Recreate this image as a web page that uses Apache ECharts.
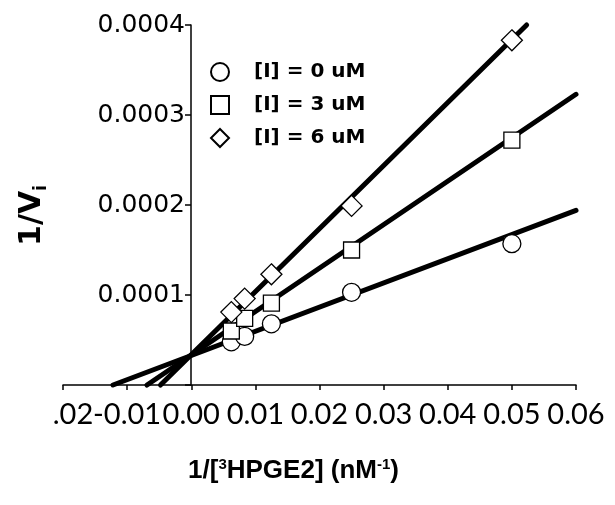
<!DOCTYPE html>
<html>
<head>
<meta charset="utf-8">
<script src="https://cdn.jsdelivr.net/npm/echarts@6/dist/echarts.min.js"></script>
<style>
html, body { margin: 0; padding: 0; background: #fff; }
#chart { width: 615px; height: 505px; }
</style>
</head>
<body>
<div id="chart"></div>
<script>
// values
var seriesNames = ['[I] = 0 uM', '[I] = 3 uM', '[I] = 6 uM'];
var invS = [0.00625, 0.00833, 0.0125, 0.025, 0.05];
var invV0 = [0.000048, 0.000054, 0.000068, 0.000103, 0.000157];
var invV3 = [0.000060, 0.000074, 0.000091, 0.000150, 0.000272];
var invV6 = [0.000081, 0.000096, 0.000123, 0.000199, 0.000383];
// fitted lines, end points [x, y]
var fit0 = [[-0.0122, 0], [0.06, 0.000194]];
var fit3 = [[-0.0069, 0], [0.06, 0.000323]];
var fit6 = [[-0.0048, 0], [0.0523, 0.0004]];

function pairs(xs, ys) {
    var out = [];
    for (var i = 0; i < xs.length; i++) out.push([xs[i], ys[i]]);
    return out;
}

var mychart = echarts.init(document.getElementById('chart'));

function fitLine(name, data) {
    return {
        name: name,
        type: 'line',
        data: data,
        symbol: 'none',
        clip: false,
        silent: true,
        z: 2,
        lineStyle: { color: '#000', width: 5, cap: 'round' }
    };
}

function points(name, ys, symbol, size) {
    return {
        name: name,
        type: 'scatter',
        data: pairs(invS, ys),
        symbol: symbol,
        symbolSize: size,
        z: 3,
        itemStyle: { color: '#fff', borderColor: '#000', borderWidth: 1.3, opacity: 1 }
    };
}

var option = {
    animation: false,
    backgroundColor: '#fff',
    grid: { left: 63, right: 39, top: 25, bottom: 120, containLabel: false, outerBoundsMode: 'none' },
    legend: {
        orient: 'vertical',
        left: 205,
        top: 55,
        itemWidth: 18,
        itemHeight: 18,
        itemGap: 9,
        data: seriesNames,
        textStyle: {
            fontFamily: 'DejaVu Sans',
            fontWeight: 'bold',
            fontSize: 20,
            lineHeight: 24,
            color: '#000',
            padding: [0, 0, 0, 20]
        }
    },
    xAxis: {
        type: 'value',
        min: -0.02,
        max: 0.06,
        interval: 0.01,
        splitLine: { show: false },
        axisLine: { onZero: false, lineStyle: { color: '#000', width: 1.5 } },
        axisTick: { length: 5, lineStyle: { color: '#000', width: 1.5 } },
        axisLabel: {
            margin: 15,
            showMinLabel: true,
            showMaxLabel: true,
            hideOverlap: false,
            fontFamily: 'Lato',
            fontSize: 29,
            color: '#000',
            formatter: function (v) {
                if (Math.abs(v + 0.02) < 1e-9) return '{cut|.02}';
                return v.toFixed(2);
            },
            rich: {
                cut: { fontFamily: 'Lato', fontSize: 29, color: '#000', padding: [0, 0, 0, 20] }
            }
        },
        name: '{b|1/[}{s|3}{b|HPGE2] (nM}{s|-1}{b|)}',
        nameLocation: 'middle',
        nameGap: 72,
        nameTextStyle: {
            padding: [0, 52, 0, 0],
            rich: {
                b: { fontFamily: 'Liberation Sans', fontWeight: 'bold', fontSize: 26, color: '#000' },
                s: { fontFamily: 'Liberation Sans', fontWeight: 'bold', fontSize: 15, color: '#000', padding: [0, 0, 12, 0] }
            }
        }
    },
    yAxis: {
        type: 'value',
        min: 0,
        max: 0.0004,
        interval: 0.0001,
        offset: -128,
        splitLine: { show: false },
        axisLine: { onZero: false, lineStyle: { color: '#000', width: 1.5 } },
        axisTick: { length: 6, lineStyle: { color: '#000', width: 1.5 } },
        axisLabel: {
            margin: 6,
            hideOverlap: false,
            fontFamily: 'DejaVu Sans',
            fontSize: 25,
            color: '#000',
            formatter: function (v) { return v === 0 ? '' : v.toFixed(4); }
        },
        name: '{b|1/V}{s|i}',
        nameLocation: 'middle',
        nameRotate: 90,
        nameGap: 141,
        nameTextStyle: {
            padding: [0, 21, 0, 0],
            rich: {
                b: { fontFamily: 'DejaVu Sans', fontWeight: 'bold', fontSize: 30, color: '#000' },
                s: { fontFamily: 'DejaVu Sans', fontWeight: 'bold', fontSize: 17, color: '#000', padding: [18, 0, 0, 0] }
            }
        }
    },
    series: [
        fitLine('fit 0 uM', fit0),
        fitLine('fit 3 uM', fit3),
        fitLine('fit 6 uM', fit6),
        points(seriesNames[0], invV0, 'circle', 18),
        points(seriesNames[1], invV3, 'rect', 16),
        points(seriesNames[2], invV6, 'diamond', 21)
    ]
};

mychart.setOption(option);
</script>
</body>
</html>
